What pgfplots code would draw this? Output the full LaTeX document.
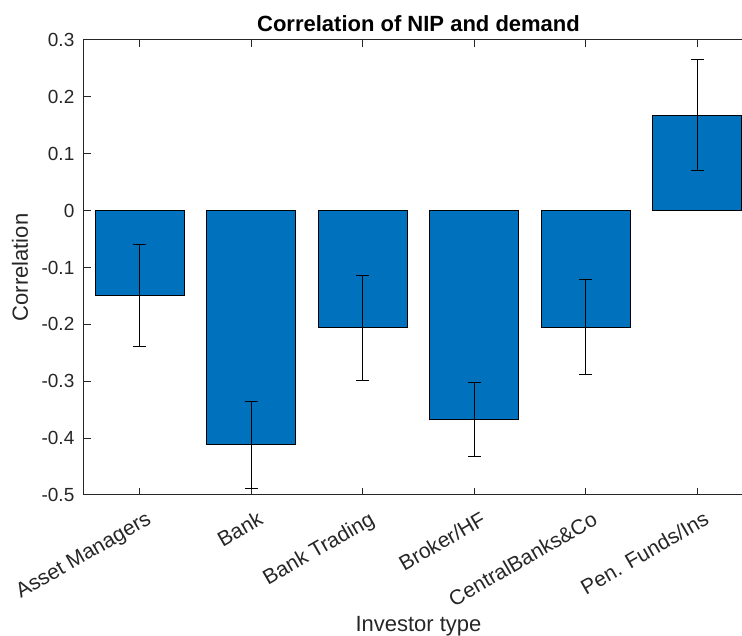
\documentclass[border=0pt]{standalone}
\usepackage{fontspec}
\setmainfont{Liberation Sans}
\usepackage{pgfplots}
\pgfplotsset{compat=1.18}
\definecolor{mblue}{RGB}{0,114,189}
\definecolor{axgray}{RGB}{38,38,38}
\begin{document}
\begin{tikzpicture}
\begin{axis}[
  scale only axis,
  width=334.5pt, height=227.5pt,
  xmin=0.5, xmax=6.5, ymin=-0.5, ymax=0.3,
  ybar, bar width=0.8,
  xtick={1,2,3,4,5,6},
  xticklabels={Asset Managers, Bank, Bank Trading, Broker/HF, CentralBanks\&Co, Pen. Funds/Ins},
  ytick={-0.5,-0.4,-0.3,-0.2,-0.1,0,0.1,0.2,0.3},
  yticklabels={-0.5,-0.4,-0.3,-0.2,-0.1,0,0.1,0.2,0.3},
  tick align=inside,
  major tick length=3.4pt,
  axis line style={axgray, line width=0.5pt},
  tick style={axgray, line width=0.5pt},
  ticklabel style={font=\fontsize{9.5}{11}\selectfont, text=axgray},
  /pgf/number format/assume math mode=true,
  xticklabel style={font=\fontsize{10.5}{12}\selectfont, rotate=30, anchor=north east, xshift=2pt, yshift=-4.5pt},
  yticklabel style={xshift=-1.3pt},
  title={\textbf{Correlation of NIP and demand}},
  title style={font=\fontsize{11}{13}\selectfont, at={(axis description cs:0.5,1)}, anchor=base, yshift=-2pt},
  xlabel={Investor type},
  xlabel style={font=\fontsize{11}{13}\selectfont, text=axgray, at={(axis description cs:0.5,0)}, anchor=base, yshift=-68.3pt},
  ylabel={Correlation},
  ylabel style={font=\fontsize{11}{13}\selectfont, text=axgray, at={(axis description cs:-0.0957,0.5)}, anchor=center, rotate=0},
]
\addplot[fill=mblue, draw=black, line width=0.5pt,
  error bars/.cd, y dir=both, y explicit,
  error bar style={black, line width=0.5pt},
  error mark options={black, mark size=3.25pt, line width=0.5pt, rotate=90}]
  coordinates {
    (1,-0.149) +- (0,0.090)
    (2,-0.412) +- (0,0.076)
    (3,-0.206) +- (0,0.092)
    (4,-0.368) +- (0,0.065)
    (5,-0.205) +- (0,0.084)
    (6,0.168)  +- (0,0.097)
  };
\end{axis}
\pgfresetboundingbox
\path ([shift={(-42pt,-70.5pt)}]current axis.south west) rectangle ([shift={(329pt,20pt)}]current axis.north west);
\end{tikzpicture}
\end{document}
